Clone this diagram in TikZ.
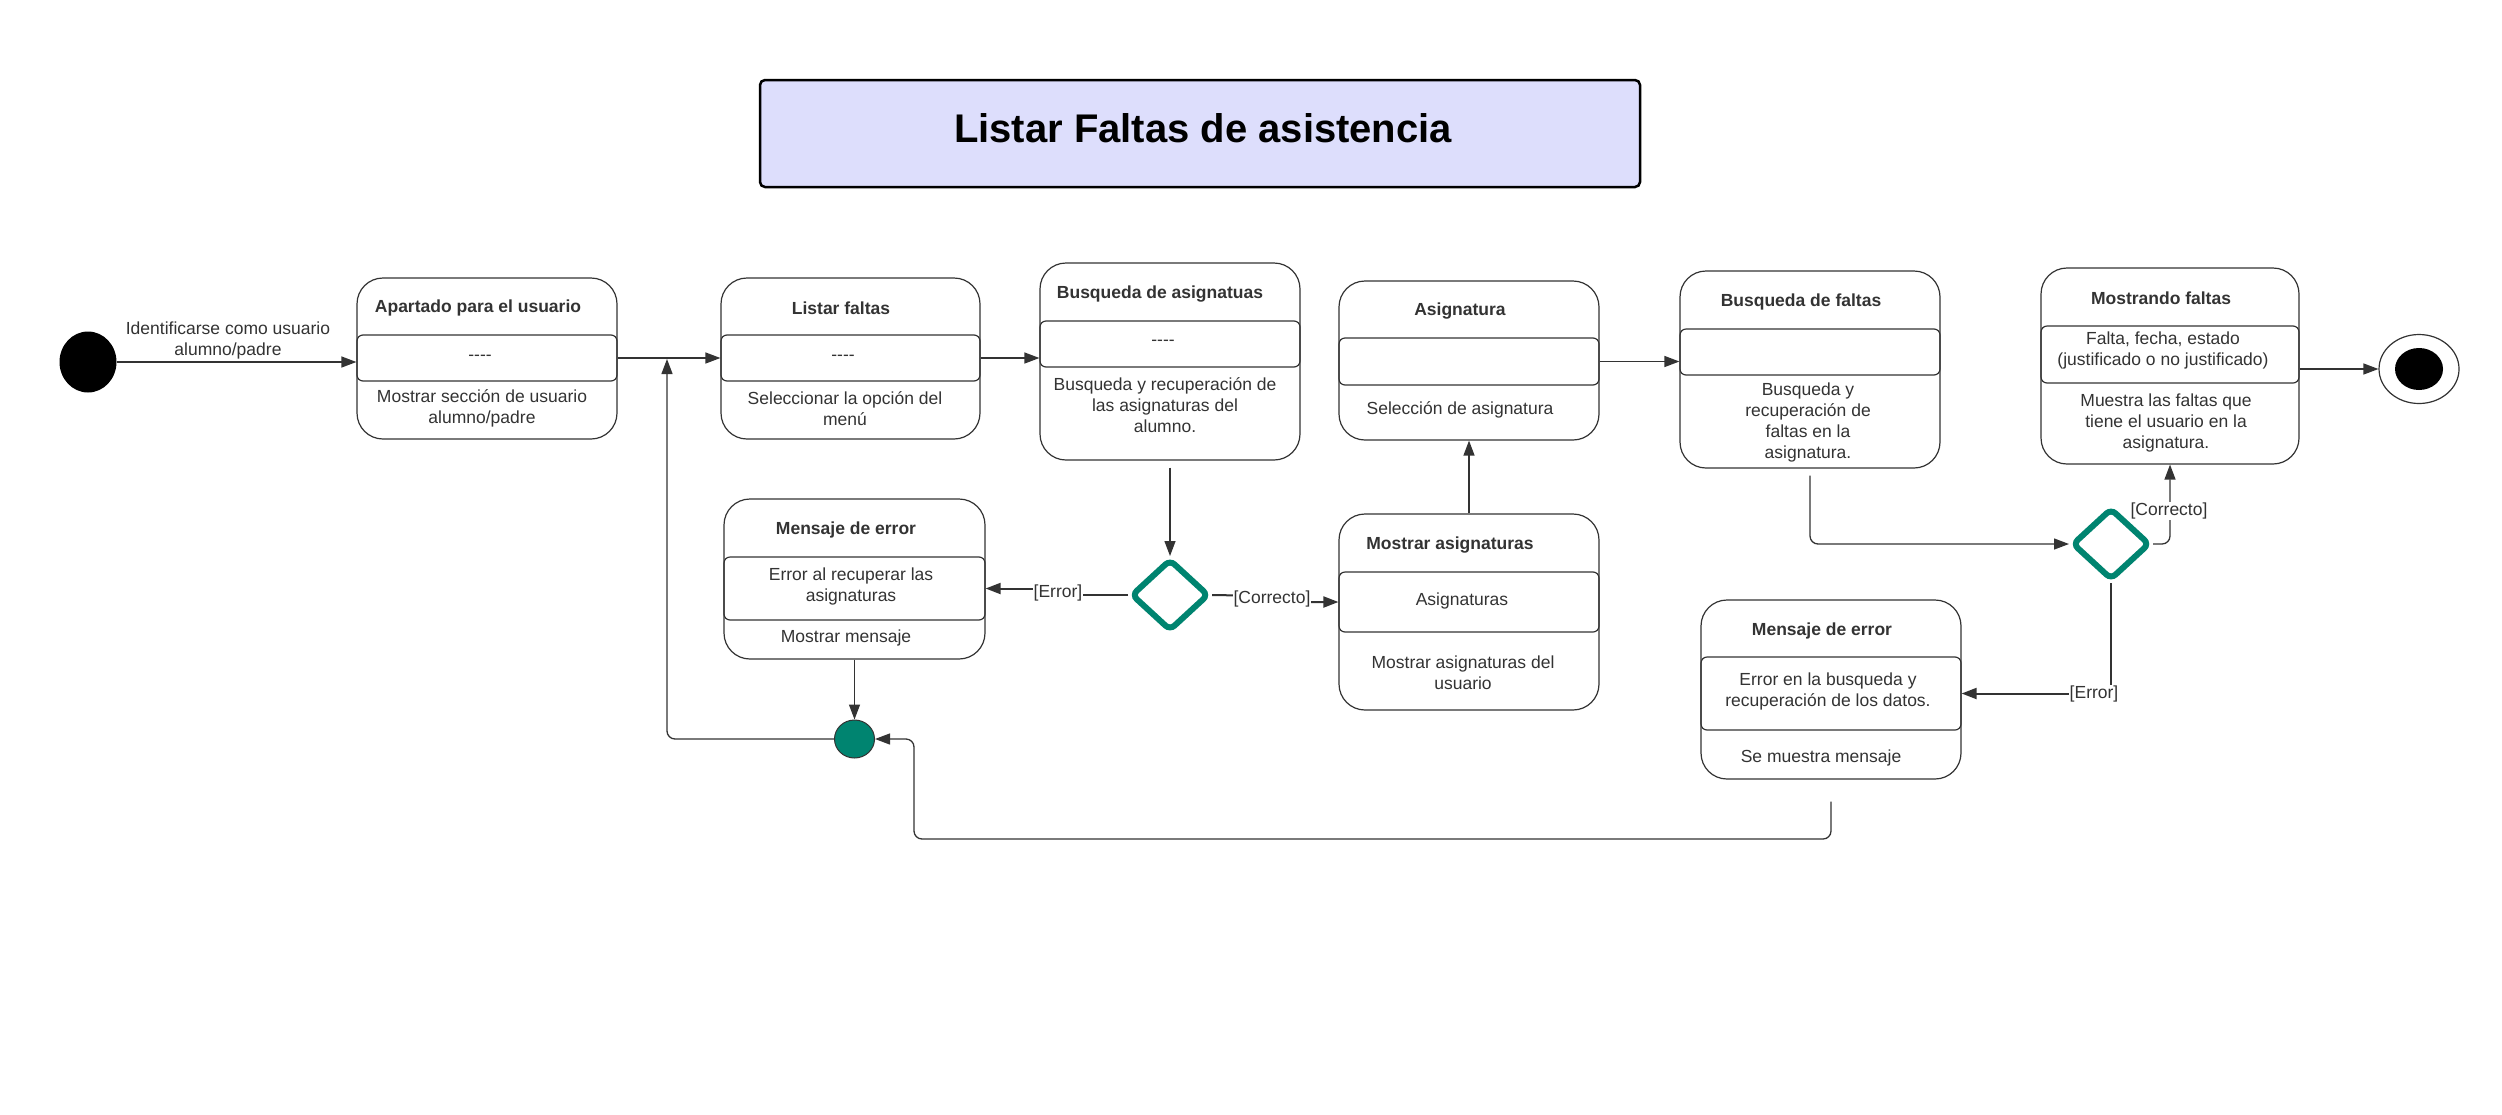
\documentclass[tikz,border=0pt]{standalone}
\usepackage{fontspec}
\setmainfont{Liberation Sans}
\usetikzlibrary{arrows.meta,shapes.geometric}
\definecolor{teal1}{RGB}{0,132,112}
\definecolor{ln}{RGB}{51,51,51}
\definecolor{titlefill}{RGB}{221,222,252}
\newcommand{\fourdash}{\mbox{-}\mbox{-}\mbox{-}\mbox{-}}
\begin{document}
\begin{tikzpicture}[x=1pt,y=-1pt,
  every node/.style={font=\fontsize{17.5}{21}\selectfont, text=ln},
  statebox/.style={draw=ln, line width=1.2pt, rounded corners=26pt, fill=white, inner sep=0pt},
  band/.style={draw=ln, line width=1.2pt, rounded corners=6pt, inner sep=0pt, align=center},
  ttl/.style={font=\fontsize{17.5}{21}\selectfont\bfseries, inner sep=0pt},
  txt/.style={align=center, inner sep=0pt},
  conn/.style={draw=ln, line width=1.3pt, -{Triangle[length=15pt,width=11pt]}, rounded corners=8pt},
  dconn/.style={draw=ln, line width=2pt, -{Triangle[length=15pt,width=11pt]}},
  guard/.style={fill=white, inner sep=1pt},
  decision/.style={diamond, draw=teal1, line width=6pt, rounded corners=6pt, fill=white, inner sep=0pt, minimum width=78pt, minimum height=72pt},
]
\fill[white] (0,0) rectangle (2502,1114);
\useasboundingbox (0,0) rectangle (2502,1114);

% title
\node[draw=black, line width=2.5pt, fill=titlefill, rounded corners=5pt, minimum width=880pt, minimum height=107pt, inner sep=0pt] (title) at (1200,133.5) {};
\node[inner sep=0pt, text=black, font=\fontsize{40}{46}\selectfont\bfseries] (titletext) at (1203,128) {Listar Faltas de asistencia};

% initial / final / merge
\node[ellipse, fill=black, minimum width=57pt, minimum height=61pt, inner sep=0pt] (init) at (88,362) {};
\node[ellipse, draw=ln, line width=1.2pt, fill=white, minimum width=80pt, minimum height=69pt, inner sep=0pt] (fin) at (2419,369) {};
\node[ellipse, fill=black, minimum width=48pt, minimum height=42pt, inner sep=0pt] (fininner) at (2419,369) {};
\node[ellipse, fill=teal1, draw=ln, line width=1pt, minimum width=40pt, minimum height=38pt, inner sep=0pt] (merge) at (854.5,739) {};

% box 1
\node[statebox, minimum width=260pt, minimum height=161pt] (b1) at (487,358.5) {};
\node[band, minimum width=260pt, minimum height=46pt] (b1m) at (487,358) {};
\node[txt] (b1d) at (480,358) {\fourdash};
\node[ttl] (b1t) at (478,308) {Apartado para el usuario};
\node[txt] (b1b) at (482,408.5) {Mostrar sección de usuario\\alumno/padre};

% box 2
\node[statebox, minimum width=259pt, minimum height=161pt] (b2) at (850.5,358.5) {};
\node[band, minimum width=259pt, minimum height=46pt] (b2m) at (850.5,358) {};
\node[txt] (b2d) at (843,358) {\fourdash};
\node[ttl] (b2t) at (841,308) {Listar faltas};
\node[txt] (b2b) at (845,408.5) {Seleccionar la opción del\\menú};

% box 3
\node[statebox, minimum width=260pt, minimum height=197pt] (b3) at (1170,361.5) {};
\node[band, minimum width=260pt, minimum height=46pt] (b3m) at (1170,344) {};
\node[txt] (b3d) at (1163,343) {\fourdash};
\node[ttl] (b3t) at (1160,294) {Busqueda de asignatuas};
\node[txt] (b3b) at (1165,405) {Busqueda y recuperación de\\las asignaturas del\\alumno.};

% box 4
\node[statebox, minimum width=260pt, minimum height=159pt] (b4) at (1469,360.5) {};
\node[band, minimum width=260pt, minimum height=47pt] (b4m) at (1469,361.5) {};
\node[ttl] (b4t) at (1460,311) {Asignatura};
\node[txt] (b4b) at (1460,410) {Selección de asignatura};

% box 5
\node[statebox, minimum width=260pt, minimum height=197pt] (b5) at (1810,369.5) {};
\node[band, minimum width=260pt, minimum height=46pt] (b5m) at (1810,352) {};
\node[ttl] (b5t) at (1801,302) {Busqueda de faltas};
\node[txt] (b5b) at (1808,422.5) {Busqueda y\\recuperación de\\faltas en la\\asignatura.};

% box 6
\node[statebox, minimum width=258pt, minimum height=196pt] (b6) at (2170,366) {};
\node[band, minimum width=258pt, minimum height=57pt] (b6m) at (2170,354.5) {};
\node[txt] (b6d) at (2163,350) {Falta, fecha, estado\\(justificado o no justificado)};
\node[ttl] (b6t) at (2161,298) {Mostrando faltas};
\node[txt] (b6b) at (2166,422.5) {Muestra las faltas que\\tiene el usuario en la\\asignatura.};

% box 7
\node[statebox, minimum width=261pt, minimum height=160pt] (b7) at (854.5,579) {};
\node[band, minimum width=261pt, minimum height=63pt] (b7m) at (854.5,588.5) {};
\node[txt] (b7d) at (851,586) {Error al recuperar las\\asignaturas};
\node[ttl] (b7t) at (846,530) {Mensaje de error};
\node[txt] (b7b) at (846,638) {Mostrar mensaje};

% box 8
\node[statebox, minimum width=260pt, minimum height=196pt] (b8) at (1469,612) {};
\node[band, minimum width=260pt, minimum height=60pt] (b8m) at (1469,602) {};
\node[txt] (b8d) at (1462,601) {Asignaturas};
\node[ttl] (b8t) at (1450,545) {Mostrar asignaturas};
\node[txt] (b8b) at (1463,672.5) {Mostrar asignaturas del\\usuario};

% box 9
\node[statebox, minimum width=260pt, minimum height=179pt] (b9) at (1831,689.5) {};
\node[band, minimum width=260pt, minimum height=73pt] (b9m) at (1831,693.5) {};
\node[txt] (b9d) at (1828,691) {Error en la busqueda y\\recuperación de los datos.};
\node[ttl] (b9t) at (1822,631) {Mensaje de error};
\node[txt] (b9b) at (1821,758) {Se muestra mensaje};

% decisions
\node[decision] (d1) at (1170,595) {};
\node[decision] (d2) at (2111,544) {};

% helper coordinates
\coordinate (lp) at (667,359);
\coordinate (m1) at (914,839);
\coordinate (j1) at (1058,595);
\coordinate (j2) at (1272,596);

% connectors
\draw[conn] (init.east) -- (init.east -| b1.west);
\node[txt] (initlbl) at (228,340.5) {Identificarse como usuario\\alumno/padre};
\draw[conn] (b1m.east) -- (b2m.west);
\draw[conn] (b2m.east) -- (b2m.east -| b3.west);
\draw[conn, shorten <=7pt] (b3.south) -- (b3.south |- d1.north);
\draw[dconn] (d1.west) -- (j1) |- (b7m.east);
\node[guard] (g1) at (1058,593) {[Error]};
\draw[dconn] (d1.east) -- (j2) |- (b8m.west);
\node[guard] (g2) at (1272,599) {[Correcto]};
\draw[conn] (b8.north) -- (b4.south);
\draw[conn] (b4m.east) -- (b4m.east -| b5.west);
\draw[conn, shorten <=7pt] (b5.south) |- (d2.west);
\draw[conn] (d2.east) -| (b6.south);
\node[guard] (g3) at (2169,511) {[Correcto]};
\draw[dconn] (d2.south) |- (b9m.east);
\node[guard] (g4) at (2094,694) {[Error]};
\draw[conn] (b6.east |- fin) -- (fin.west);
\draw[conn] (b7.south) -- (b7.south |- merge.north);
\draw[conn] (merge.west) -| (lp);
\draw[conn, shorten <=22pt] (b9.south) |- (m1) |- (merge.east);
\end{tikzpicture}
\end{document}
